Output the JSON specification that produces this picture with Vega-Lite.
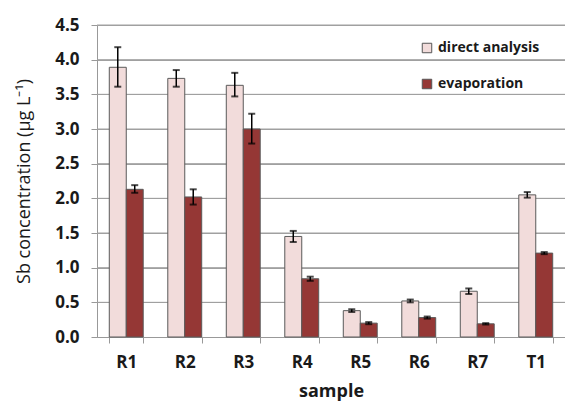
{
  "$schema": "https://vega.github.io/schema/vega-lite/v6.json",
  "width": 468,
  "height": 312,
  "autosize": {"type": "none"},
  "padding": {"left": 97, "top": 25, "right": 0, "bottom": 64},
  "background": "white",
  "config": {
    "font": "Open Sans",
    "view": {"stroke": null},
    "axisY": {
      "tickCount": 9,
      "format": ".1f",
      "labelOverlap": false,
      "labelFont": "Open Sans",
      "labelFontWeight": "bold",
      "labelFontSize": 17,
      "labelColor": "#1a1a1a",
      "labelPadding": 12,
      "titleFont": "Open Sans",
      "titleFontWeight": "normal",
      "titleFontSize": 18,
      "titleColor": "#1a1a1a",
      "titlePadding": 21,
      "domainColor": "#999999",
      "tickColor": "#999999",
      "tickSize": 6,
      "grid": true,
      "gridColor": "#a0a0a0",
      "gridWidth": 1
    }
  },
  "datasets": {
    "bars": [
      {"sample": "R1", "method": "direct analysis", "value": 3.89, "lo": 3.61, "hi": 4.18},
      {"sample": "R1", "method": "evaporation", "value": 2.13, "lo": 2.08, "hi": 2.19},
      {"sample": "R2", "method": "direct analysis", "value": 3.73, "lo": 3.61, "hi": 3.85},
      {"sample": "R2", "method": "evaporation", "value": 2.02, "lo": 1.91, "hi": 2.13},
      {"sample": "R3", "method": "direct analysis", "value": 3.63, "lo": 3.47, "hi": 3.81},
      {"sample": "R3", "method": "evaporation", "value": 3.0, "lo": 2.79, "hi": 3.22},
      {"sample": "R4", "method": "direct analysis", "value": 1.45, "lo": 1.37, "hi": 1.53},
      {"sample": "R4", "method": "evaporation", "value": 0.84, "lo": 0.81, "hi": 0.87},
      {"sample": "R5", "method": "direct analysis", "value": 0.38, "lo": 0.36, "hi": 0.40},
      {"sample": "R5", "method": "evaporation", "value": 0.2, "lo": 0.185, "hi": 0.215},
      {"sample": "R6", "method": "direct analysis", "value": 0.52, "lo": 0.50, "hi": 0.54},
      {"sample": "R6", "method": "evaporation", "value": 0.28, "lo": 0.265, "hi": 0.295},
      {"sample": "R7", "method": "direct analysis", "value": 0.66, "lo": 0.62, "hi": 0.70},
      {"sample": "R7", "method": "evaporation", "value": 0.19, "lo": 0.18, "hi": 0.20},
      {"sample": "T1", "method": "direct analysis", "value": 2.05, "lo": 2.01, "hi": 2.09},
      {"sample": "T1", "method": "evaporation", "value": 1.21, "lo": 1.195, "hi": 1.225}
    ],
    "grid": [
      {"g": 0.5}, {"g": 1.0}, {"g": 1.5}, {"g": 2.0}, {"g": 2.5},
      {"g": 3.0}, {"g": 3.5}, {"g": 4.0}, {"g": 4.5}
    ]
  },
  "layer": [
    {
      "data": {"name": "grid"},
      "mark": {"type": "rule", "color": "#a0a0a0", "strokeWidth": 1},
      "encoding": {
        "y": {"field": "g", "type": "quantitative", "scale": {"domain": [0, 4.5], "nice": false}, "title": "Sb concentration (μg L⁻¹)"},
        "x": {"value": 0},
        "x2": {"value": "width"}
      }
    },
    {
      "data": {"name": "bars"},
      "encoding": {
        "x": {
          "field": "sample",
          "type": "nominal",
          "sort": null,
          "scale": {"paddingInner": 0.42, "paddingOuter": 0.21},
          "axis": {
            "title": "sample",
            "labelAngle": 0,
            "labelFont": "Open Sans",
            "labelFontWeight": "bold",
            "labelFontSize": 17,
            "labelColor": "#1a1a1a",
            "labelPadding": 11,
            "titleFont": "Open Sans",
            "titleFontWeight": "bold",
            "titleFontSize": 18,
            "titleColor": "#1a1a1a",
            "titlePadding": 12,
            "domainColor": "#999999",
            "tickColor": "#999999",
            "tickBand": "extent",
            "tickSize": 6,
            "grid": false
          }
        },
        "xOffset": {"field": "method", "type": "nominal", "sort": ["direct analysis", "evaporation"]}
      },
      "layer": [
        {
          "mark": {"type": "bar", "stroke": "#5a5a5a", "strokeWidth": 1},
          "encoding": {
            "y": {"field": "value", "type": "quantitative", "title": "Sb concentration (μg L⁻¹)"},
            "fill": {
              "field": "method",
              "type": "nominal",
              "scale": {"domain": ["direct analysis", "evaporation"], "range": ["#F2DCDB", "#953735"]},
              "legend": {
                "title": null,
                "orient": "none",
                "legendX": 323,
                "legendY": 16,
                "symbolType": "square",
                "symbolSize": 90,
                "symbolStrokeColor": "#555555",
                "symbolStrokeWidth": 1,
                "labelFont": "Open Sans",
                "labelFontWeight": "bold",
                "labelFontSize": 14,
                "labelColor": "#1a1a1a",
                "rowPadding": 22,
                "labelOffset": 4
              }
            }
          }
        },
        {
          "mark": {"type": "rule", "color": "black", "strokeWidth": 1.5},
          "encoding": {
            "y": {"field": "lo", "type": "quantitative", "title": "Sb concentration (μg L⁻¹)"},
            "y2": {"field": "hi"}
          }
        },
        {
          "mark": {"type": "tick", "color": "black", "thickness": 2, "size": 7},
          "encoding": {
            "y": {"field": "lo", "type": "quantitative", "title": "Sb concentration (μg L⁻¹)"}
          }
        },
        {
          "mark": {"type": "tick", "color": "black", "thickness": 2, "size": 7},
          "encoding": {
            "y": {"field": "hi", "type": "quantitative", "title": "Sb concentration (μg L⁻¹)"}
          }
        }
      ]
    }
  ]
}
